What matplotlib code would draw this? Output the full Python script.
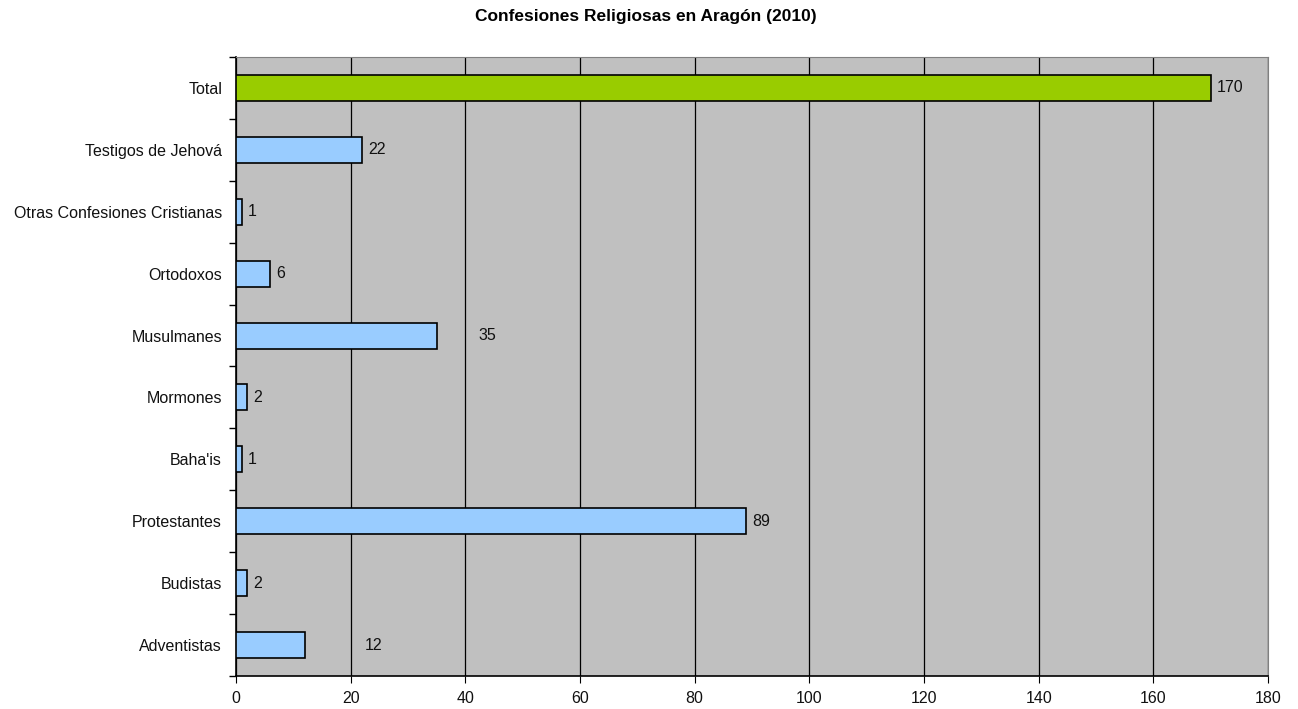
import matplotlib.pyplot as plt
import numpy as np

# datos (de abajo hacia arriba)
categorias = ['Adventistas', 'Budistas', 'Protestantes', "Baha'is", 'Mormones',
              'Musulmanes', 'Ortodoxos', 'Otras Confesiones Cristianas',
              'Testigos de Jehová', 'Total']
valores = [12, 2, 89, 1, 2, 35, 6, 1, 22, 170]

# desplazamiento extra de las etiquetas (px), como en el original
desplaz_etiqueta = [60, 6, 6, 6, 6, 42, 6, 6, 6, 6]

plt.rcParams['font.family'] = ['Liberation Sans', 'DejaVu Sans']
TAM = 11.5

fig = plt.figure(figsize=(12.98, 7.09), dpi=100)
ax = fig.add_axes([236 / 1298, 1 - 676 / 709, 1032 / 1298, 619 / 709])

colores = ['#99ccff'] * (len(valores) - 1) + ['#99cc00']
y = np.arange(len(categorias))
ax.barh(y, valores, height=0.42, color=colores, edgecolor='black', linewidth=1.2, zorder=3)

for yi, v, d in zip(y, valores, desplaz_etiqueta):
    ax.annotate(str(v), (v, yi), xytext=(d * 0.72, 0), textcoords='offset points',
                va='center', ha='left', fontsize=TAM, color='#111111')

ax.set_facecolor('#c0c0c0')
ax.set_xlim(0, 180)
ax.set_ylim(-0.5, len(categorias) - 0.5)
ax.set_xticks(range(0, 181, 20))
ax.xaxis.grid(True, color='black', linewidth=0.9, zorder=0)
ax.set_axisbelow(True)

ax.set_yticks(y)
ax.set_yticklabels(categorias, fontsize=TAM, color='#111111')
ax.tick_params(axis='y', length=0, pad=10)
ax.set_yticks(np.arange(-0.5, len(categorias), 1), minor=True)
ax.tick_params(axis='y', which='minor', length=5, width=1)
ax.tick_params(axis='x', length=5, labelsize=TAM, labelcolor='#111111', pad=6)

for s in ['top', 'right']:
    ax.spines[s].set_color('#808080')
for s in ['left', 'bottom']:
    ax.spines[s].set_color('black')
    ax.spines[s].set_linewidth(1.2)

fig.text(645.5 / 1298, 1 - 17 / 709, 'Confesiones Religiosas en Aragón (2010)',
         ha='center', va='center', fontsize=12.5, fontweight='bold')

fig.savefig('out.png', dpi=100)
